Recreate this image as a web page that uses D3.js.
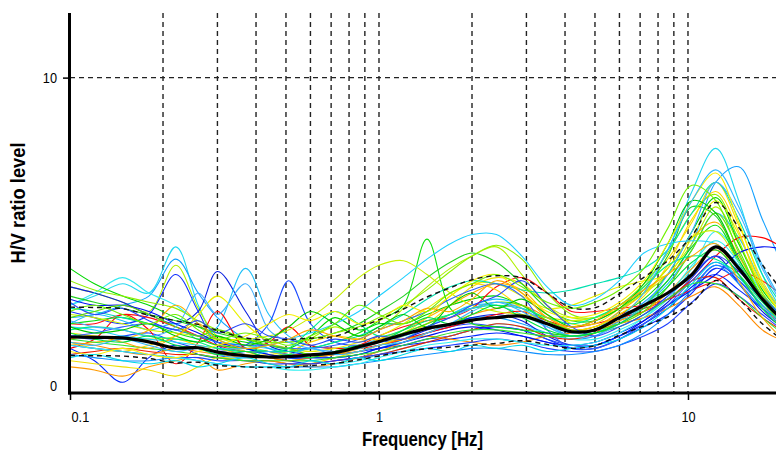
<!DOCTYPE html>
<html>
<head>
<meta charset="utf-8">
<script src="https://cdn.jsdelivr.net/npm/d3@7"></script>
<style>
  html, body { margin: 0; padding: 0; background: #fff; overflow: hidden; }
  text { font-family: "Liberation Sans", Arial, sans-serif; }
</style>
</head>
<body>
<svg id="chart" width="776" height="452"></svg>
<script>
// Frequency samples (Hz) shared by every H/V window curve
const frequencies = [0.1, 0.12, 0.148, 0.18, 0.22, 0.26, 0.3, 0.37, 0.44, 0.51, 0.6, 0.72, 0.86, 1.0, 1.2, 1.43,
  1.7, 2.0, 2.4, 2.9, 3.5, 4.2, 5.0, 6.0, 7.2, 8.6, 10.3, 12.3, 14.6, 17.4, 20.8];

// H/V ratio of each time window
const win01 = [2.6, 2.9, 3.3, 3.0, 4.5, 2.6, 1.5, 1.3, 1.2, 1.1, 1.0, 0.9, 1.0, 1.2, 1.5, 1.9, 2.3, 2.6, 2.6, 2.3, 1.9, 1.6, 1.8, 2.4, 3.2, 4.4, 6.3, 7.7, 6.0, 3.6, 2.2];
const win02 = [2.2, 2.3, 2.6, 2.9, 4.1, 3.0, 2.2, 1.5, 1.2, 1.0, 0.9, 0.9, 1.0, 1.2, 1.4, 1.7, 2.0, 2.2, 2.2, 2.0, 1.7, 1.5, 1.6, 2.1, 2.7, 3.4, 4.6, 6.6, 7.1, 5.4, 3.6];
const win03 = [3.2, 3.0, 2.7, 2.4, 3.9, 2.5, 1.6, 1.3, 1.1, 1.0, 1.5, 1.9, 1.6, 1.8, 2.5, 3.2, 3.8, 4.2, 4.5, 3.6, 2.6, 2.2, 2.2, 2.6, 3.0, 3.6, 4.6, 5.8, 4.6, 3.2, 2.3];
const win04 = [2.4, 2.2, 2.0, 2.3, 3.6, 2.4, 1.3, 1.0, 0.9, 0.8, 0.7, 0.8, 0.9, 1.1, 1.3, 1.5, 1.6, 1.8, 1.9, 1.8, 1.5, 1.2, 1.2, 1.5, 1.9, 2.3, 3.0, 3.8, 3.4, 2.6, 1.9];
const win05 = [3.2, 3.0, 2.7, 2.3, 2.0, 2.4, 3.7, 2.4, 1.3, 1.1, 1.0, 1.0, 1.1, 1.3, 1.5, 1.8, 2.0, 2.2, 2.3, 2.1, 1.6, 1.3, 1.3, 1.6, 2.1, 2.7, 3.5, 4.2, 3.3, 2.4, 1.8];
const win06 = [2.0, 2.3, 2.1, 1.8, 2.0, 1.5, 1.9, 3.8, 2.3, 1.6, 1.3, 1.2, 1.3, 1.5, 1.7, 2.0, 2.3, 2.6, 2.8, 2.6, 2.0, 1.6, 1.7, 2.1, 2.6, 3.3, 4.4, 5.6, 4.8, 3.3, 2.2];
const win07 = [1.6, 1.5, 1.6, 1.7, 1.4, 1.2, 1.1, 1.3, 2.0, 3.4, 2.0, 1.4, 1.3, 1.4, 1.5, 1.7, 1.9, 2.0, 1.9, 1.8, 1.5, 1.3, 1.3, 1.6, 2.0, 2.6, 3.2, 3.9, 3.5, 2.8, 2.1];
const win08 = [2.6, 3.0, 3.5, 3.0, 2.6, 2.0, 1.5, 1.2, 1.0, 0.9, 0.8, 0.7, 0.8, 1.0, 1.2, 1.4, 1.6, 1.8, 2.0, 1.9, 1.7, 1.5, 1.5, 1.8, 2.2, 2.8, 3.8, 5.0, 4.2, 3.0, 2.1];
const win09 = [3.8, 3.3, 2.9, 2.6, 2.2, 1.9, 1.6, 1.4, 1.3, 1.2, 1.6, 2.2, 1.8, 2.0, 2.0, 2.3, 2.6, 2.8, 2.9, 2.6, 2.1, 1.8, 1.9, 2.3, 2.8, 3.6, 5.0, 6.1, 4.6, 3.1, 2.2];
const win10 = [1.2, 0.8, 0.1, 0.9, 1.3, 1.0, 0.9, 1.1, 1.0, 0.9, 0.9, 1.0, 1.1, 1.2, 1.3, 1.4, 1.5, 1.6, 1.7, 1.6, 1.4, 1.2, 1.3, 1.6, 2.0, 2.5, 3.2, 3.6, 3.1, 2.5, 1.9];
const win11 = [2.0, 2.0, 2.3, 2.2, 1.9, 1.6, 1.3, 1.1, 1.1, 1.0, 1.0, 1.1, 1.3, 1.6, 1.9, 2.1, 2.2, 2.5, 3.2, 3.5, 3.0, 2.4, 2.4, 2.5, 2.6, 2.8, 3.1, 3.4, 3.7, 3.4, 2.8];
const win12 = [1.2, 1.5, 2.3, 1.8, 0.7, 1.4, 2.4, 1.2, 1.4, 1.9, 1.3, 1.2, 1.2, 1.3, 1.5, 1.7, 1.9, 2.1, 2.3, 2.4, 2.1, 1.9, 2.0, 2.2, 2.4, 2.8, 3.4, 4.2, 4.8, 4.8, 4.4];
const win13 = [1.0, 1.1, 1.2, 1.1, 1.0, 1.0, 0.9, 0.8, 0.8, 0.7, 0.7, 0.8, 0.9, 1.0, 1.2, 1.4, 1.6, 1.8, 2.0, 1.9, 1.6, 1.5, 1.7, 2.3, 2.5, 2.8, 3.4, 3.5, 2.8, 2.2, 1.7];
const win14 = [0.6, 0.5, 0.3, 0.6, 0.8, 0.9, 0.5, 0.7, 0.8, 0.7, 0.6, 0.7, 0.9, 1.1, 1.4, 1.7, 2.0, 2.3, 2.5, 2.6, 2.2, 1.8, 1.8, 2.1, 2.4, 3.0, 3.8, 4.4, 3.6, 2.6, 1.9];
const win15 = [1.3, 1.4, 1.5, 1.8, 2.6, 2.0, 1.4, 1.1, 0.9, 0.8, 0.9, 1.0, 1.2, 1.5, 1.8, 2.2, 2.6, 3.0, 3.3, 3.1, 2.3, 1.8, 1.9, 2.4, 3.0, 3.8, 4.8, 5.3, 4.2, 2.8, 1.5];
const win16 = [1.4, 1.3, 1.1, 1.0, 1.2, 1.1, 1.0, 0.9, 0.9, 0.8, 0.9, 1.0, 1.1, 1.3, 1.5, 1.6, 1.5, 1.4, 1.3, 1.4, 1.6, 1.7, 1.8, 2.0, 2.2, 2.5, 2.9, 3.2, 2.6, 1.8, 1.4];
const win17 = [0.8, 0.7, 0.6, 0.5, 0.3, 0.6, 0.9, 0.8, 0.7, 0.6, 0.7, 0.9, 1.1, 1.3, 1.6, 2.0, 2.6, 3.2, 3.5, 3.3, 2.6, 2.0, 2.0, 2.5, 3.2, 4.1, 5.3, 6.6, 5.2, 3.4, 2.2];
const win18 = [1.7, 1.6, 1.5, 1.5, 1.6, 2.3, 2.9, 2.0, 1.4, 1.2, 1.1, 1.2, 1.4, 1.6, 2.0, 2.5, 3.0, 3.3, 3.3, 2.9, 2.5, 2.6, 2.9, 3.2, 3.4, 3.6, 4.8, 6.0, 4.9, 3.2, 2.1];
const win19 = [1.4, 1.2, 1.1, 1.3, 1.5, 1.3, 1.2, 1.0, 1.0, 1.1, 1.4, 1.6, 1.5, 1.5, 1.7, 2.2, 2.9, 3.3, 3.1, 2.5, 2.0, 1.8, 1.9, 2.3, 2.9, 3.9, 5.4, 6.3, 5.0, 3.0, 1.9];
const win20 = [2.0, 2.1, 2.2, 2.0, 1.7, 1.5, 1.3, 1.2, 1.1, 1.1, 1.2, 1.4, 1.7, 2.1, 2.6, 4.75, 2.5, 2.0, 1.9, 1.8, 1.7, 1.6, 1.7, 2.0, 2.6, 3.4, 4.5, 5.2, 4.0, 2.8, 2.0];
const win21 = [2.9, 2.7, 2.5, 2.3, 2.1, 1.9, 1.7, 1.5, 1.4, 1.4, 1.5, 1.7, 2.0, 2.4, 2.9, 3.5, 4.0, 4.3, 4.0, 3.3, 2.5, 2.1, 2.1, 2.5, 3.1, 4.2, 5.8, 5.5, 4.0, 2.8, 2.0];
const win22 = [3.4, 3.1, 2.9, 2.7, 2.5, 2.1, 1.8, 1.5, 1.4, 1.4, 1.5, 1.7, 1.9, 2.2, 2.6, 3.1, 3.7, 4.2, 4.55, 4.1, 3.0, 2.3, 2.2, 2.6, 3.3, 4.3, 5.6, 6.2, 4.7, 3.0, 2.1];
const win23 = [2.3, 2.2, 2.0, 1.8, 1.7, 1.6, 1.5, 1.5, 1.6, 1.8, 2.2, 2.8, 3.5, 3.9, 4.05, 3.6, 3.0, 2.6, 2.4, 2.3, 2.2, 2.1, 2.2, 2.5, 3.0, 3.8, 4.8, 5.0, 4.0, 2.9, 2.1];
const win24 = [1.9, 1.8, 1.6, 1.5, 1.4, 1.3, 1.2, 1.2, 1.3, 1.5, 1.7, 2.0, 2.4, 2.9, 3.5, 4.1, 4.6, 4.9, 4.9, 4.2, 3.2, 2.6, 2.8, 3.4, 4.3, 4.6, 4.7, 4.6, 3.9, 2.8, 2.0];
const win25 = [2.5, 2.4, 2.2, 2.0, 1.8, 1.6, 1.4, 1.2, 1.1, 1.1, 1.2, 1.4, 1.6, 1.9, 2.3, 2.8, 3.2, 3.4, 3.3, 3.1, 3.0, 3.1, 3.3, 3.5, 3.8, 4.4, 5.6, 6.6, 5.4, 3.6, 2.4];
const win26 = [1.3, 1.2, 1.1, 1.0, 0.9, 0.9, 0.8, 0.8, 0.7, 0.7, 0.7, 0.8, 0.9, 1.0, 1.1, 1.2, 1.3, 1.4, 1.5, 1.4, 1.2, 1.1, 1.1, 1.3, 1.6, 2.0, 2.7, 3.3, 2.9, 2.3, 1.7];
const win27 = [2.8, 2.6, 2.6, 2.4, 2.0, 1.7, 1.4, 1.2, 1.0, 0.9, 0.9, 0.9, 1.0, 1.2, 1.4, 1.6, 1.8, 1.9, 1.8, 1.6, 1.4, 1.3, 1.4, 1.7, 2.1, 2.6, 3.1, 3.6, 4.3, 4.5, 4.4];
const win28 = [1.6, 1.7, 1.9, 2.0, 1.8, 1.6, 1.4, 1.3, 1.3, 1.2, 1.2, 1.3, 1.5, 1.8, 2.1, 2.4, 2.8, 3.1, 3.3, 2.9, 1.8, 1.2, 1.2, 1.5, 2.0, 2.6, 3.4, 4.0, 3.4, 2.6, 1.9];
const win29 = [1.0, 0.9, 0.8, 0.8, 0.9, 0.8, 0.7, 0.6, 0.6, 0.6, 0.6, 0.6, 0.7, 0.8, 0.9, 1.0, 1.1, 1.2, 1.2, 1.1, 1.0, 1.0, 1.1, 1.3, 1.7, 2.3, 3.1, 3.9, 3.3, 2.5, 1.8];
const win30 = [1.3, 1.2, 1.1, 1.0, 0.9, 0.8, 0.7, 0.6, 0.6, 0.5, 0.5, 0.6, 0.7, 0.9, 1.1, 1.3, 1.4, 1.5, 1.5, 1.4, 1.3, 1.3, 1.4, 1.7, 2.2, 2.9, 3.9, 4.7, 4.0, 2.9, 2.1];
const win31 = [1.5, 1.4, 1.3, 1.2, 1.1, 1.0, 0.9, 0.8, 0.8, 0.8, 0.8, 0.9, 1.0, 1.1, 1.3, 1.5, 1.7, 1.8, 1.8, 1.7, 1.6, 1.6, 1.7, 1.9, 2.3, 2.8, 3.3, 3.3, 2.9, 2.2, 1.6];
const win32 = [2.2, 2.4, 2.6, 2.3, 1.9, 1.6, 1.8, 1.5, 1.3, 1.2, 1.0, 1.1, 1.2, 1.4, 1.7, 2.0, 2.3, 2.5, 2.7, 2.6, 2.1, 1.8, 1.8, 2.0, 2.4, 3.2, 4.4, 5.6, 4.4, 2.8, 1.8];
const win33 = [1.8, 1.9, 1.8, 1.6, 1.5, 1.4, 1.2, 1.1, 1.1, 1.2, 1.8, 2.4, 2.0, 1.6, 1.8, 2.1, 2.3, 2.5, 2.6, 2.5, 2.2, 2.0, 2.2, 2.6, 3.2, 3.9, 4.2, 4.1, 3.6, 2.7, 2.0];
const win34 = [2.1, 1.9, 1.8, 1.6, 1.9, 3.0, 2.3, 3.3, 1.8, 1.4, 1.2, 1.1, 1.2, 1.4, 1.6, 1.9, 2.2, 2.5, 2.7, 2.4, 1.9, 1.6, 1.6, 2.0, 2.6, 3.6, 5.0, 6.6, 5.6, 3.8, 2.4];
const win35 = [1.9, 1.7, 1.8, 2.0, 1.6, 1.4, 1.6, 1.3, 1.5, 1.9, 2.4, 2.0, 1.6, 1.9, 2.3, 1.9, 2.6, 3.0, 2.5, 2.8, 2.3, 1.9, 2.1, 2.5, 3.3, 4.6, 6.0, 5.6, 4.1, 2.9, 2.0];
const win36 = [1.1, 1.0, 1.2, 1.0, 0.9, 1.1, 1.3, 1.6, 2.0, 2.3, 2.1, 2.4, 2.0, 2.1, 2.6, 2.4, 2.9, 3.4, 3.6, 3.0, 2.4, 2.2, 2.3, 2.7, 3.4, 4.6, 6.0, 6.9, 5.3, 3.3, 2.1];
const win37 = [0.9, 1.0, 0.8, 0.7, 0.8, 0.6, 0.7, 0.9, 0.7, 0.6, 0.8, 0.7, 0.9, 0.8, 1.0, 1.2, 1.1, 1.3, 1.2, 1.3, 1.1, 1.2, 1.3, 1.5, 1.9, 2.5, 3.3, 4.0, 3.5, 2.6, 1.9];
const win38 = [2.7, 2.3, 2.5, 2.1, 1.8, 2.1, 1.7, 2.0, 1.6, 1.5, 1.3, 1.5, 1.4, 1.6, 1.5, 1.9, 2.2, 2.6, 2.9, 3.4, 2.6, 1.9, 1.6, 1.9, 2.3, 2.9, 3.6, 4.2, 3.7, 2.9, 2.1];
const win39 = [1.5, 1.6, 1.4, 1.2, 1.6, 2.0, 1.5, 1.2, 1.3, 1.5, 1.8, 1.6, 1.5, 1.8, 2.1, 2.5, 2.4, 2.8, 3.4, 3.0, 2.2, 1.9, 2.1, 2.6, 3.1, 3.6, 4.2, 4.6, 3.4, 2.2, 1.4];
const win40 = [2.4, 2.6, 2.3, 2.0, 2.3, 1.8, 1.5, 1.7, 1.5, 1.3, 1.6, 2.0, 2.6, 2.3, 2.0, 2.4, 3.0, 3.3, 3.6, 3.2, 2.7, 2.5, 2.7, 3.1, 3.8, 5.1, 6.5, 6.0, 4.3, 2.9, 2.0];
const win41 = [1.4, 1.3, 1.5, 1.3, 1.1, 1.2, 1.0, 0.9, 1.1, 1.0, 1.2, 1.0, 1.1, 1.3, 1.4, 1.7, 2.0, 2.4, 2.7, 2.5, 2.0, 1.7, 1.8, 2.2, 3.0, 4.4, 6.0, 7.0, 5.8, 3.9, 2.5];
const win42 = [1.7, 1.5, 1.4, 1.6, 1.3, 1.2, 1.0, 1.1, 0.9, 1.0, 0.9, 1.1, 1.3, 1.4, 1.8, 2.2, 2.0, 2.3, 2.6, 2.2, 1.8, 1.6, 1.7, 2.0, 2.5, 3.2, 4.0, 4.4, 3.6, 2.5, 1.7];

// Window colours (one per curve, same order as the list below)
const windowColors = [
  "#22d8f0", "#12a0ff", "#b0f000", "#1030ff", "#0a20e0", "#20c0f8", "#1848ff", "#30e8f0", "#00d800", "#0028ff",
  "#ff1010", "#ff0000", "#f02000", "#ff9a00", "#ffb000", "#ff8c00", "#f0e000", "#e8f000", "#ffd800", "#10e010",
  "#20d020", "#90f000", "#c8f000", "#20d0ff", "#00e0b0", "#2040ff", "#0010f0", "#3060ff", "#1090ff", "#30f0f0",
  "#30e030", "#60e000", "#00f080", "#40b0ff", "#00c800", "#f8f000", "#00d8e8", "#2848f8", "#ffa800", "#70f000",
  "#30b8ff", "#00e040"
];
const windows = [win01, win02, win03, win04, win05, win06, win07, win08, win09, win10, win11, win12, win13, win14,
  win15, win16, win17, win18, win19, win20, win21, win22, win23, win24, win25, win26, win27, win28, win29, win30,
  win31, win32, win33, win34, win35, win36, win37, win38, win39, win40, win41, win42];

// Average H/V curve and its standard-deviation bounds
const averageCurve = [1.57, 1.56, 1.54, 1.41, 1.21, 1.22, 1.08, 0.96, 0.92, 0.93, 0.99, 1.06, 1.25, 1.42, 1.65, 1.85,
  1.98, 2.12, 2.2, 2.25, 2.0, 1.74, 1.8, 2.2, 2.6, 3.0, 3.6, 4.5, 3.8, 2.8, 2.0];
const upperCurve = [2.54, 2.53, 2.49, 2.28, 2.1, 1.98, 1.78, 1.54, 1.47, 1.49, 1.53, 1.59, 1.88, 2.13, 2.48, 2.87,
  3.17, 3.43, 3.56, 3.49, 3.0, 2.52, 2.52, 2.97, 3.51, 4.05, 4.86, 5.94, 5.13, 3.92, 2.9];
const lowerCurve = [0.97, 0.96, 0.95, 0.87, 0.73, 0.75, 0.65, 0.6, 0.58, 0.58, 0.64, 0.71, 0.83, 0.95, 1.1, 1.19,
  1.24, 1.31, 1.36, 1.45, 1.33, 1.2, 1.29, 1.63, 1.93, 2.22, 2.67, 3.41, 2.81, 2.0, 1.38];

// Axis ticks and grid
const gridFrequencies = [0.2, 0.3, 0.4, 0.5, 0.6, 0.7, 0.8, 0.9, 1, 2, 3, 4, 5, 6, 7, 8, 9, 10];
const xTickValues = [0.1, 1, 10];
const yTickValues = [0, 10];
const yGridValues = [10];

const svg = d3.select("#chart");
const plotLeft = 70, plotRight = 781, plotTop = 13, plotBottom = 393;
const labelFont = "'Liberation Sans', Arial, sans-serif";

const x = d3.scaleLog().domain([0.1, 20]).range([plotLeft, plotRight]);
const y = d3.scaleLinear().domain([-0.25, 12.1]).range([plotBottom, plotTop]);

// Squeeze a text element horizontally (narrow glyphs)
function narrow(sel, factor) {
  sel.each(function () {
    const w = this.getComputedTextLength();
    d3.select(this).attr("textLength", w * factor).attr("lengthAdjust", "spacingAndGlyphs");
  });
}

svg.append("defs").append("clipPath").attr("id", "plot-clip")
  .append("rect").attr("x", plotLeft).attr("y", plotTop)
  .attr("width", 776 - plotLeft).attr("height", plotBottom - plotTop);

// Dashed grid
const grid = svg.append("g").attr("stroke", "#222").attr("stroke-width", 1.4).attr("stroke-dasharray", "5,4");
grid.selectAll("line.v").data(gridFrequencies).join("line")
  .attr("class", "v")
  .attr("x1", d => x(d)).attr("x2", d => x(d))
  .attr("y1", plotTop).attr("y2", plotBottom);
grid.selectAll("line.h").data(yGridValues).join("line")
  .attr("class", "h")
  .attr("x1", plotLeft).attr("x2", 776)
  .attr("y1", d => y(d)).attr("y2", d => y(d));

const line = d3.line()
  .x((d, i) => x(frequencies[i]))
  .y(d => y(d))
  .curve(d3.curveCatmullRom.alpha(0.5));

const plot = svg.append("g").attr("clip-path", "url(#plot-clip)");

plot.selectAll("path.win").data(windows).join("path")
  .attr("class", "win")
  .attr("fill", "none")
  .attr("stroke", (d, i) => windowColors[i])
  .attr("stroke-width", 1.1)
  .attr("d", line);

plot.selectAll("path.std").data([upperCurve, lowerCurve]).join("path")
  .attr("class", "std")
  .attr("fill", "none")
  .attr("stroke", "#111")
  .attr("stroke-width", 1.4)
  .attr("stroke-dasharray", "5,4")
  .attr("d", line);

plot.append("path")
  .datum(averageCurve)
  .attr("fill", "none")
  .attr("stroke", "#000")
  .attr("stroke-width", 3.2)
  .attr("stroke-linejoin", "round")
  .attr("d", line);

// Axes
const xAxis = svg.append("g")
  .attr("transform", `translate(0,${plotBottom})`)
  .call(d3.axisBottom(x).tickValues(xTickValues).tickFormat(d3.format("~g")).tickSize(7).tickPadding(11));
xAxis.select(".domain").remove();
xAxis.selectAll(".tick line").attr("stroke", "#000").attr("stroke-width", 1.5);
xAxis.selectAll(".tick text").attr("font-size", 15).attr("fill", "#000").attr("font-family", labelFont);
xAxis.selectAll(".tick text").filter(d => d === 0.1).attr("text-anchor", "start").attr("x", 1);
narrow(xAxis.selectAll(".tick text"), 0.85);

const yAxis = svg.append("g")
  .attr("transform", `translate(${plotLeft},0)`)
  .call(d3.axisLeft(y).tickValues(yTickValues).tickFormat(d3.format("d")).tickSize(7).tickPadding(6));
yAxis.select(".domain").remove();
yAxis.selectAll(".tick line").attr("stroke", "#000").attr("stroke-width", 1.5)
  .filter(d => d === 0).remove();
yAxis.selectAll(".tick text").attr("font-size", 15).attr("fill", "#000").attr("font-family", labelFont);
narrow(yAxis.selectAll(".tick text"), 0.85);

// Axis frame lines
svg.append("line").attr("x1", plotLeft - 0.5).attr("x2", plotLeft - 0.5).attr("y1", plotTop).attr("y2", plotBottom + 1.5)
  .attr("stroke", "#000").attr("stroke-width", 3);
svg.append("line").attr("x1", plotLeft - 2).attr("x2", 776).attr("y1", plotBottom).attr("y2", plotBottom)
  .attr("stroke", "#000").attr("stroke-width", 3);

// Axis titles
svg.append("text")
  .attr("x", 422.5).attr("y", 446)
  .attr("text-anchor", "middle")
  .attr("font-size", 20).attr("font-weight", "bold")
  .attr("textLength", 121).attr("lengthAdjust", "spacingAndGlyphs")
  .text("Frequency [Hz]");

svg.append("text")
  .attr("transform", "translate(25,203) rotate(-90)")
  .attr("text-anchor", "middle")
  .attr("font-size", 20).attr("font-weight", "bold")
  .attr("textLength", 121).attr("lengthAdjust", "spacingAndGlyphs")
  .text("H/V ratio level");
</script>
</body>
</html>
